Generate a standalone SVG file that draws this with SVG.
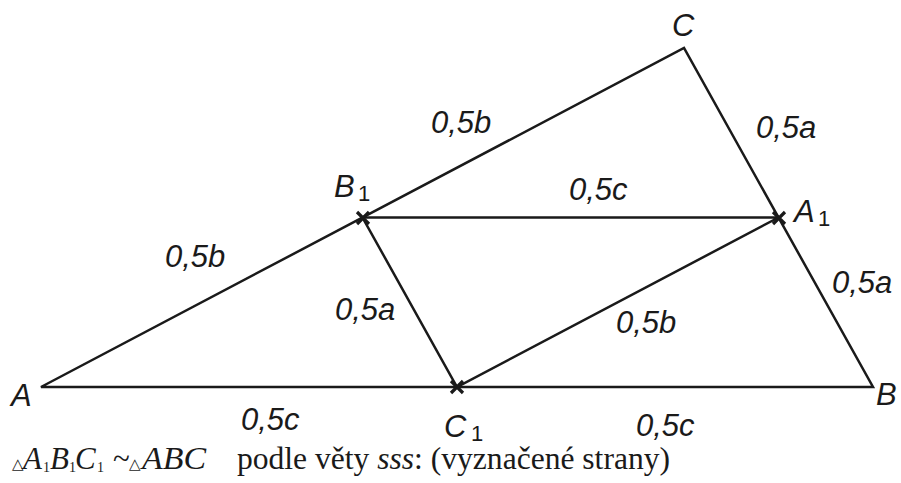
<svg xmlns="http://www.w3.org/2000/svg" width="901" height="483" viewBox="0 0 901 483">
<style>
.ln{stroke:#1a1a1a;stroke-width:2.5;fill:none;stroke-linecap:round;stroke-linejoin:miter}
.mk{stroke:#1a1a1a;stroke-width:3.2;fill:none}
.lb{font-family:"Liberation Sans",Arial,sans-serif;font-style:italic;font-size:31px;fill:#1a1a1a}
.sb{font-family:"Liberation Sans",Arial,sans-serif;font-style:normal;font-size:22px;fill:#1a1a1a}
.tx{font-family:"Liberation Serif","Times New Roman",serif;font-size:31px;fill:#1a1a1a}
.it{font-style:italic}
.sm{font-size:14px}
.tri{font-family:"DejaVu Sans",sans-serif;font-size:15px}
</style>
<defs>
<path id="cross" class="mk" d="M-6,-6L6,6M6,-6L-6,6"/>
</defs>
<rect width="901" height="483" fill="#ffffff"/>
<g id="connectors">
<path class="ln" d="M41,387L873,387L684,48Z"/>
<path class="ln" d="M362.5,217.5L778.5,217.5L457,387Z"/>
</g>
<g id="edge-labels">
<text class="lb" x="431" y="133">0,5b</text>
<text class="lb" x="756" y="138">0,5a</text>
<text class="lb" x="569" y="200">0,5c</text>
<text class="lb" x="165" y="267">0,5b</text>
<text class="lb" x="832" y="293">0,5a</text>
<text class="lb" x="335" y="320">0,5a</text>
<text class="lb" x="616" y="333">0,5b</text>
<text class="lb" x="241" y="430">0,5c</text>
<text class="lb" x="636" y="436">0,5c</text>
</g>
<g id="node-A"><text class="lb" x="11" y="406">A</text></g>
<g id="node-B"><text class="lb" x="876" y="405">B</text></g>
<g id="node-C"><text class="lb" x="672" y="36">C</text></g>
<g id="node-B1"><use href="#cross" x="363" y="218"/><text class="lb" x="334" y="197">B</text><text class="sb" x="358" y="201">1</text></g>
<g id="node-A1"><use href="#cross" x="779" y="218"/><text class="lb" x="794" y="222">A</text><text class="sb" x="818" y="226">1</text></g>
<g id="node-C1"><use href="#cross" x="457" y="387"/><text class="lb" x="444" y="437">C</text><text class="sb" x="471" y="441">1</text></g>
<g id="caption">
<text class="tx" y="469"><tspan class="tri" x="12">△</tspan><tspan class="it" x="23">A</tspan><tspan class="sm" x="43" y="472">1</tspan><tspan class="it" x="50" y="469">B</tspan><tspan class="sm" x="69" y="472">1</tspan><tspan class="it" x="75" y="469">C</tspan><tspan class="sm" x="97" y="472">1</tspan><tspan x="113" y="469">~</tspan><tspan class="tri" x="129">△</tspan><tspan class="it" x="142" textLength="64" lengthAdjust="spacingAndGlyphs">ABC</tspan></text>
<text class="tx" x="237" y="469" textLength="433" lengthAdjust="spacingAndGlyphs">podle věty <tspan class="it">sss</tspan>: (vyznačené strany)</text>
</g>
</svg>
